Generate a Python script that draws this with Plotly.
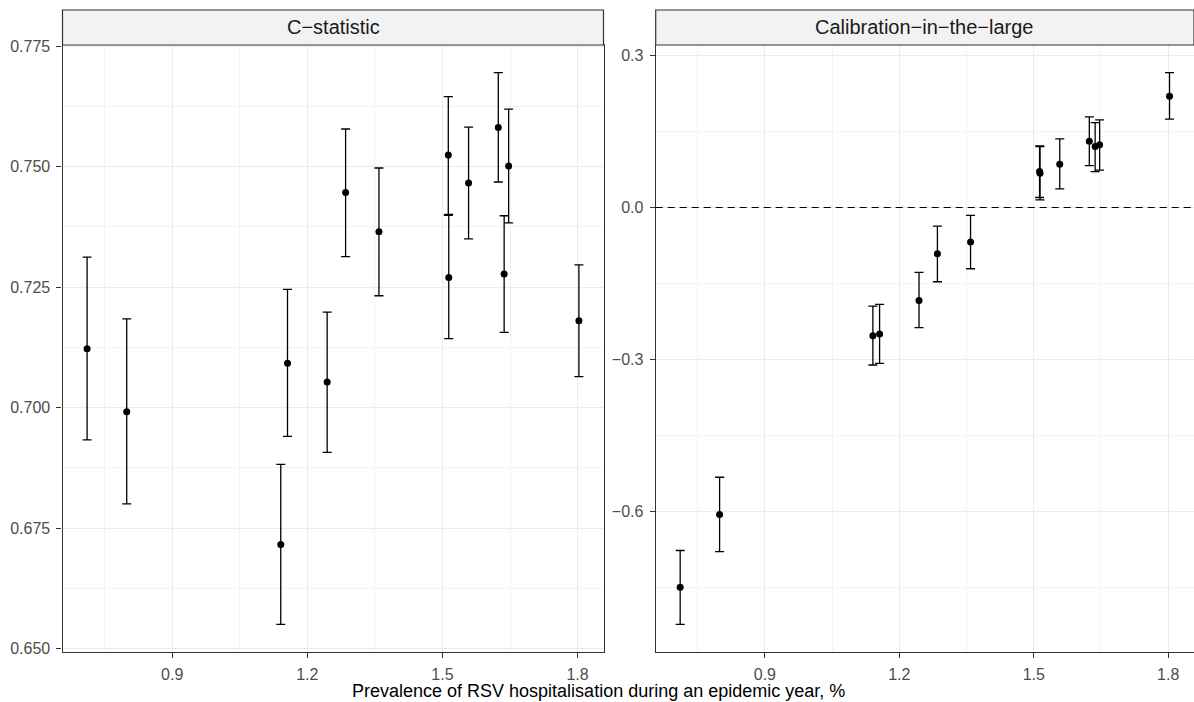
import plotly.graph_objects as go

# ---- data ----
prevalence = [0.711, 0.799, 1.141, 1.156, 1.244, 1.285, 1.359, 1.513, 1.514, 1.558, 1.624, 1.637, 1.647, 1.803]

cstat = [0.7122, 0.6991, 0.6716, 0.7092, 0.7053, 0.7446, 0.7365, 0.7524, 0.7270, 0.7466, 0.7581, 0.7277, 0.7501, 0.7180]
cstat_lo = [0.6933, 0.6800, 0.6550, 0.6940, 0.6907, 0.7313, 0.7232, 0.7399, 0.7143, 0.7350, 0.7468, 0.7156, 0.7383, 0.7064]
cstat_hi = [0.7312, 0.7184, 0.6882, 0.7245, 0.7198, 0.7578, 0.7497, 0.7645, 0.7401, 0.7582, 0.7695, 0.7398, 0.7619, 0.7296]

citl = [-0.7486, -0.6054, -0.2527, -0.2494, -0.1832, -0.0912, -0.0682, 0.0709, 0.0677, 0.0855, 0.1308, 0.1202, 0.1235, 0.2194]
citl_lo = [-0.8220, -0.6783, -0.3105, -0.3073, -0.2370, -0.1464, -0.1208, 0.0197, 0.0152, 0.0368, 0.0827, 0.0709, 0.0737, 0.1741]
citl_hi = [-0.6763, -0.5319, -0.1943, -0.1911, -0.1281, -0.0366, -0.0157, 0.1215, 0.1200, 0.1353, 0.1787, 0.1675, 0.1728, 0.2660]

panel_titles = ["C\u2212statistic", "Calibration\u2212in\u2212the\u2212large"]
x_title = "Prevalence of RSV hospitalisation during an epidemic year, %"


def expand(lo, hi, f=0.05):
    r = hi - lo
    return [lo - f * r, hi + f * r]


W, H = 1194, 702
FONT = "Liberation Sans, Arial, Helvetica, sans-serif"
TICK_COL = "#4D4D4D"
BORDER = "#333333"

fig = go.Figure()


def add_series(y, lo, hi, xa, ya):
    fig.add_trace(go.Scatter(
        x=prevalence, y=y, mode="markers",
        marker=dict(color="black", size=7),
        error_y=dict(type="data", symmetric=False,
                     array=[h - v for h, v in zip(hi, y)],
                     arrayminus=[v - l for v, l in zip(y, lo)],
                     color="black", thickness=1.3, width=4.5),
        xaxis=xa, yaxis=ya, showlegend=False, hoverinfo="skip"))


add_series(cstat, cstat_lo, cstat_hi, "x", "y")
add_series(citl, citl_lo, citl_hi, "x2", "y2")

xr = expand(min(prevalence), max(prevalence))
y1r = expand(min(cstat_lo), max(cstat_hi))
y2r = expand(min(citl_lo), max(citl_hi))

px = lambda v: v / W
py = lambda v: (H - v) / H

x1dom = [px(62.5), px(603.5)]
x2dom = [px(655.7), 1.0]
ydom = [py(652), py(45)]

common_axis = dict(
    showline=True, mirror=True, linecolor=BORDER, linewidth=1.2,
    ticks="outside", ticklen=5, tickwidth=1.1, tickcolor=BORDER,
    tickfont=dict(family=FONT, size=16, color=TICK_COL),
    showgrid=True, gridcolor="#EBEBEB", gridwidth=1.2,
    zeroline=False, ticklabelstandoff=3, automargin=False,
)

xaxis_common = dict(common_axis, range=xr, tick0=0.9, dtick=0.3, tickformat=".1f",
                    minor=dict(tick0=0.75, dtick=0.15, showgrid=True,
                               gridcolor="#F3F3F3", gridwidth=1, ticks=""))

fig.update_layout(
    template="none",
    width=W, height=H, autosize=False,
    margin=dict(l=0, r=0, t=0, b=0, pad=0),
    paper_bgcolor="white", plot_bgcolor="white",
    font=dict(family=FONT),
    xaxis=dict(xaxis_common, domain=x1dom, anchor="y"),
    xaxis2=dict(xaxis_common, domain=x2dom, anchor="y2"),
    yaxis=dict(common_axis, domain=ydom, anchor="x", range=y1r,
               tick0=0.65, dtick=0.025, tickformat=".3f",
               minor=dict(tick0=0.6375, dtick=0.0125, showgrid=True,
                          gridcolor="#F3F3F3", gridwidth=1, ticks="")),
    yaxis2=dict(common_axis, domain=ydom, anchor="x2", range=y2r,
                tick0=0.0, dtick=0.3, tickformat=".1f",
                minor=dict(tick0=0.15, dtick=0.15, showgrid=True,
                           gridcolor="#F3F3F3", gridwidth=1, ticks="")),
)

# dashed reference line at 0 in the right panel
fig.add_shape(type="line", xref="x2 domain", yref="y2", x0=0, x1=1, y0=0, y1=0,
              line=dict(color="black", width=1.2, dash="7px,5px"))

# facet strips
strip_top = py(10)
for dom, title in zip([x1dom, x2dom], panel_titles):
    fig.add_shape(type="rect", xref="paper", yref="paper",
                  x0=dom[0], x1=dom[1], y0=ydom[1], y1=strip_top,
                  fillcolor="#F2F2F2", line=dict(color=BORDER, width=1.2), layer="above")
    fig.add_annotation(x=(dom[0] + dom[1]) / 2, y=(ydom[1] + strip_top) / 2,
                       xref="paper", yref="paper", text=title, showarrow=False,
                       xanchor="center", yanchor="middle",
                       font=dict(family=FONT, size=20, color="#1A1A1A"))

fig.add_annotation(x=px(598.5), y=py(691), xref="paper", yref="paper",
                   text=x_title, showarrow=False, xanchor="center", yanchor="middle",
                   font=dict(family=FONT, size=18, color="black"))

fig.write_html("out.html")
